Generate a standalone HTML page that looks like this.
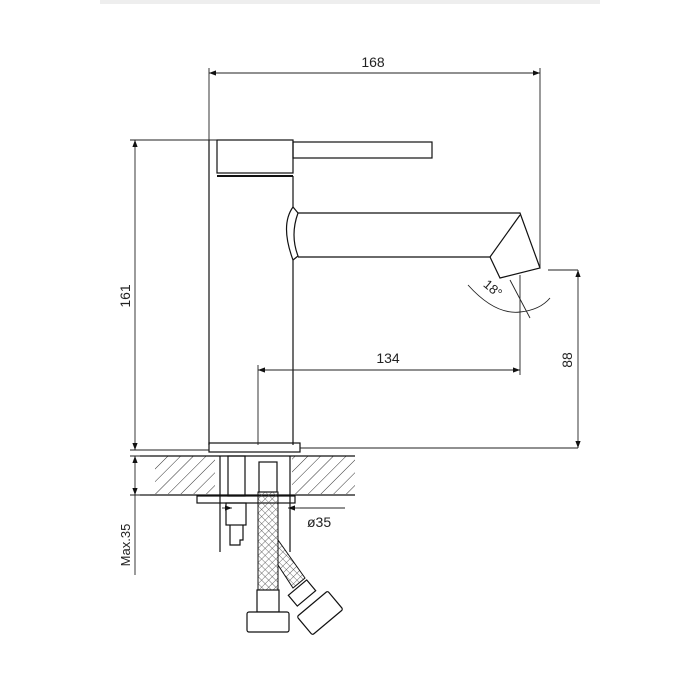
<!DOCTYPE html><html><head><style>body{margin:0;background:#fff}svg{display:block}text{font-family:"Liberation Sans",sans-serif;fill:#222}</style></head><body>
<svg width="700" height="700" viewBox="0 0 700 700" xmlns="http://www.w3.org/2000/svg">
<defs>
<pattern id="h" width="9" height="9" patternUnits="userSpaceOnUse" patternTransform="rotate(45)"><line x1="0" y1="0" x2="0" y2="9" stroke="#333" stroke-width="1"/></pattern>
<pattern id="m" width="5" height="5" patternUnits="userSpaceOnUse" patternTransform="rotate(45)"><path d="M0 0H5M0 0V5" stroke="#444" stroke-width="0.8" fill="none"/></pattern>
<marker id="a" markerWidth="8" markerHeight="6" refX="8" refY="3" orient="auto-start-reverse"><path d="M0 0L8 3L0 6z" fill="#111"/></marker>
</defs>
<rect x="100" y="0" width="500" height="4" fill="#eee"/>
<g stroke="#111" stroke-width="1.2" fill="none">
<rect x="217" y="140" width="76" height="33"/>
<line x1="217" y1="176" x2="293" y2="176" stroke-width="2"/>
<path d="M209 140V445M293 176V207M293 260V445"/>
<rect x="293" y="142" width="139" height="16"/>
<path d="M293 207Q280 225 293 260L298 256Q290 235 298 213Z"/>
<path d="M298 213H520L540 268L500 278L490 257H298"/>
<path d="M490 257L520 215"/>
<rect x="209" y="443" width="91" height="9"/>
</g>
<rect x="155" y="456" width="60" height="38" fill="url(#h)"/>
<rect x="292" y="456" width="63" height="38" fill="url(#h)"/>
<g stroke="#111" stroke-width="1.2" fill="none">
<path d="M140 456H355M140 495H355"/>
<rect x="197" y="496" width="98" height="7"/>
<path d="M220 456V552M290 456V552"/>
<rect x="228" y="456" width="17" height="40"/>
<rect x="226" y="503" width="20" height="22"/>
<path d="M230 525V545H240V540H243V525"/>
<rect x="259" y="462" width="18" height="30"/>
</g>
<rect x="258" y="492" width="20" height="98" fill="url(#m)" stroke="#111"/>
<path d="M278 540L305 578L293 588L278 565Z" fill="url(#m)" stroke="#111"/>
<g stroke="#111" stroke-width="1.2" fill="#fff">
<rect x="257" y="590" width="22" height="22"/>
<rect x="247" y="612" width="42" height="20" rx="2"/>
<rect x="290" y="586" width="24" height="14" transform="rotate(-40 302 593)"/>
<rect x="300" y="601" width="40" height="24" rx="2" transform="rotate(-40 320 613)"/>
</g>
<g stroke="#222" stroke-width="0.9" fill="none">
<path d="M209 68V140M540 68V268M130 140H217M130 450H209M130 456H150M130 495H150M578 270H548M578 448H300M520 275V375M258 365V445M300 508H345"/>
<line x1="209" y1="73" x2="540" y2="73" marker-start="url(#a)" marker-end="url(#a)"/>
<line x1="135" y1="140" x2="135" y2="450" marker-start="url(#a)" marker-end="url(#a)"/>
<line x1="578" y1="270" x2="578" y2="448" marker-start="url(#a)" marker-end="url(#a)"/>
<line x1="258" y1="370" x2="520" y2="370" marker-start="url(#a)" marker-end="url(#a)"/>
<line x1="135" y1="456" x2="135" y2="495" marker-start="url(#a)" marker-end="url(#a)"/>
<path d="M135 495V575"/>
<line x1="222" y1="508" x2="232" y2="508" marker-end="url(#a)"/>
<line x1="300" y1="508" x2="288" y2="508" marker-end="url(#a)"/>
<path d="M468 285Q495 315 520 312Q540 310 550 298"/>
<path d="M510 280L530 318"/>
</g>
<text x="373" y="67" font-size="14" text-anchor="middle">168</text>
<text transform="translate(130 296) rotate(-90)" font-size="14" text-anchor="middle">161</text>
<text transform="translate(572 360) rotate(-90)" font-size="14" text-anchor="middle">88</text>
<text x="388" y="363" font-size="14" text-anchor="middle">134</text>
<text x="307" y="527" font-size="14">ø35</text>
<text transform="translate(130 545) rotate(-90)" font-size="13" text-anchor="middle">Max.35</text>
<text transform="translate(490 292) rotate(40)" font-size="13" text-anchor="middle">18°</text>
</svg></body></html>
